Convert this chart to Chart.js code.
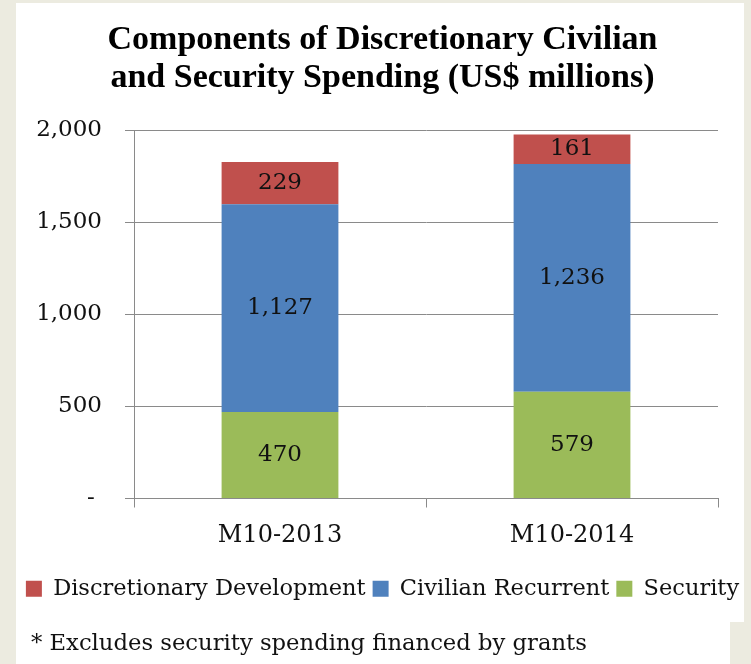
<!DOCTYPE html>
<html lang="en">
<head>
  <meta charset="UTF-8" />
  <title>Discretionary Civilian and Security Spending</title>
  <script src="https://cdn.jsdelivr.net/npm/chart.js"></script>
  <style>
    html, body { margin: 0; padding: 0; }
    body { width: 751px; height: 664px; background: #ecebe0; position: relative; overflow: hidden; }
    .panel { position: absolute; left: 16px; top: 3px; width: 728px; height: 661px; background: #fff; }
    .notch { position: absolute; left: 730px; top: 622px; width: 21px; height: 42px; background: #ecebe0; }
    #wrap { position: absolute; left: 0; top: 0; width: 751px; height: 664px; }
    .nota { position: absolute; left: 31px; top: 631px; font-family: "DejaVu Serif", serif; font-size: 22.7px; line-height: 22px; color: #111; white-space: nowrap; }
  </style>
</head>
<body>
  <div class="panel"></div>
  <div class="notch"></div>
  <div id="wrap"><canvas id="grafico"></canvas></div>
  <div class="nota">* Excludes security spending financed by grants</div>

  <script>
    const periodos = ['M10-2013', 'M10-2014'];
    const seguridad = [470, 579];
    const civil = [1127, 1236];
    const desarrollo = [229, 161];
    const marcasY = [0, 500, 1000, 1500, 2000];

    const gris = '#8a8a8a';
    const serif = '"DejaVu Serif", serif';

    // numbers inside each segment
    const etiquetas = {
      id: 'etiquetas',
      afterDatasetsDraw(chart) {
        const ctx = chart.ctx;
        ctx.save();
        ctx.font = '23px ' + serif;
        ctx.fillStyle = '#111';
        ctx.textAlign = 'center';
        ctx.textBaseline = 'middle';
        chart.data.datasets.forEach((ds, i) => {
          chart.getDatasetMeta(i).data.forEach((bar, j) => {
            ctx.fillText(ds.data[j].toLocaleString('en-US'), bar.x, (bar.y + bar.base) / 2);
          });
        });
        ctx.restore();
      }
    };

    new Chart(document.getElementById('grafico'), {
      type: 'bar',
      data: {
        labels: periodos,
        datasets: [
          { label: 'Security', data: seguridad, backgroundColor: '#9bbb59' },
          { label: 'Civilian Recurrent', data: civil, backgroundColor: '#4f81bd' },
          { label: 'Discretionary Development', data: desarrollo, backgroundColor: '#c0504d' }
        ]
      },
      options: {
        responsive: true,
        maintainAspectRatio: false,
        animation: false,
        layout: { padding: { left: 14, right: 0, top: 0, bottom: 54 } },
        categoryPercentage: 1,
        barPercentage: 0.4,
        plugins: {
          title: {
            display: true,
            text: ['Components of Discretionary Civilian', 'and Security Spending (US$ millions)'],
            color: '#000',
            font: { family: '"Liberation Serif", serif', size: 34, weight: 'bold', lineHeight: '38px' },
            padding: { top: 21, bottom: 33 }
          },
          legend: {
            position: 'bottom',
            reverse: true,
            labels: {
              color: '#111',
              font: { family: serif, size: 22.5 },
              boxWidth: 16,
              boxHeight: 16,
              padding: 7
            }
          },
          tooltip: { enabled: false }
        },
        scales: {
          x: {
            stacked: true,
            grid: { drawOnChartArea: false, color: gris, tickLength: 9 },
            border: { color: gris },
            ticks: { color: '#111', font: { family: serif, size: 24 }, padding: 14 },
            afterFit: s => { s.height = 72; }
          },
          y: {
            stacked: true,
            min: 0,
            max: 2000,
            afterBuildTicks: s => { s.ticks = marcasY.map(v => ({ value: v })); },
            grid: { color: gris, tickLength: 9 },
            border: { color: gris },
            ticks: {
              color: '#111',
              font: { family: serif, size: 23 },
              padding: 23,
              callback: v => v === 0 ? '-\u00a0' : v.toLocaleString('en-US')
            },
            afterFit: s => { s.width = 120; }
          },
          derecha: {
            position: 'right',
            grid: { display: false },
            border: { display: false },
            ticks: { display: false },
            afterFit: s => { s.width = 33; }
          }
        }
      },
      plugins: [etiquetas]
    });
  </script>
</body>
</html>
